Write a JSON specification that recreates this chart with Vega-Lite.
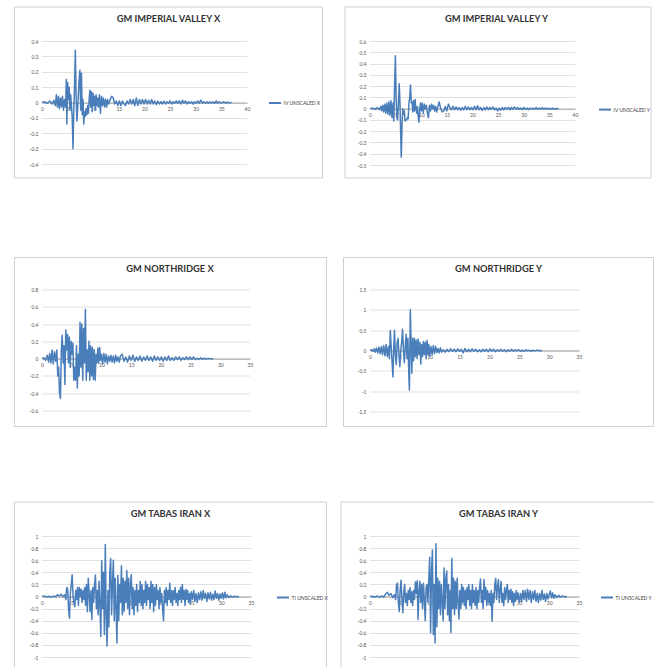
{
"$schema": "https://vega.github.io/schema/vega-lite/v6.json",
"padding": {"left": 13, "top": 6, "right": 0, "bottom": 0},
"background": "white",
"columns": 2,
"spacing": {"row": 124.5, "column": 119},
"bounds": "flush",
"resolve": {"scale": {"x": "independent", "y": "independent", "color": "independent"}, "legend": {"color": "independent"}},
"config": {
  "font": "Lato",
  "view": {"stroke": null},
  "axis": {"labelFont": "Lato", "labelFontSize": 5, "labelColor": "#595959", "ticks": false, "labelFlush": false, "labelOverlap": false},
  "axisX": {"grid": false, "domain": true, "domainColor": "#8c8c8c", "domainWidth": 0.8, "labelPadding": 4},
  "axisY": {"grid": true, "gridColor": "#d9d9d9", "gridWidth": 0.8, "domain": false, "labelPadding": 4},
  "legend": {"symbolType": "stroke", "symbolSize": 144, "symbolStrokeWidth": 2, "labelFont": "Lato", "labelFontSize": 5, "labelColor": "#404040", "labelOffset": 1.5, "padding": 0},
  "title": {"font": "Lato", "fontSize": 9.3, "fontWeight": "bold", "color": "#333333"}
},
"datasets": {
"ivx": [{"t":0,"a":0},{"t":0.5,"a":0.005},{"t":1,"a":-0.005},{"t":1.5,"a":0.01},{"t":2,"a":-0.01},{"t":2.3,"a":0.015},{"t":2.6,"a":-0.02},{"t":2.8,"a":0.05},{"t":3,"a":-0.03},{"t":3.2,"a":0.04},{"t":3.4,"a":-0.04},{"t":3.6,"a":0.03},{"t":3.8,"a":-0.03},{"t":4,"a":0.04},{"t":4.2,"a":-0.05},{"t":4.4,"a":0.02},{"t":4.6,"a":-0.03},{"t":4.75,"a":0.15},{"t":4.85,"a":-0.14},{"t":5,"a":0.13},{"t":5.15,"a":0.02},{"t":5.3,"a":0.1},{"t":5.45,"a":-0.05},{"t":5.6,"a":0.05},{"t":5.75,"a":-0.02},{"t":5.9,"a":-0.1},{"t":6.05,"a":-0.3},{"t":6.2,"a":-0.05},{"t":6.35,"a":0.1},{"t":6.5,"a":0.34},{"t":6.65,"a":0.05},{"t":6.8,"a":-0.12},{"t":6.95,"a":-0.05},{"t":7.1,"a":0.05},{"t":7.25,"a":0.15},{"t":7.4,"a":0.21},{"t":7.55,"a":-0.05},{"t":7.7,"a":0.19},{"t":7.85,"a":-0.08},{"t":8,"a":0.02},{"t":8.15,"a":-0.14},{"t":8.3,"a":-0.06},{"t":8.45,"a":-0.09},{"t":8.6,"a":-0.04},{"t":8.75,"a":-0.08},{"t":8.9,"a":-0.02},{"t":9.05,"a":-0.07},{"t":9.2,"a":0.02},{"t":9.35,"a":0.08},{"t":9.5,"a":-0.03},{"t":9.65,"a":0.07},{"t":9.8,"a":-0.06},{"t":9.95,"a":0.06},{"t":10.1,"a":-0.02},{"t":10.25,"a":0.04},{"t":10.4,"a":-0.05},{"t":10.55,"a":0.05},{"t":10.7,"a":-0.02},{"t":10.85,"a":0.03},{"t":11,"a":-0.03},{"t":11.2,"a":0.05},{"t":11.4,"a":-0.07},{"t":11.6,"a":0.04},{"t":11.8,"a":-0.02},{"t":12,"a":0.03},{"t":12.2,"a":-0.03},{"t":12.4,"a":0.02},{"t":12.6,"a":-0.03},{"t":12.8,"a":0.02},{"t":13,"a":-0.01},{"t":13.3,"a":0.02},{"t":13.6,"a":0.04},{"t":13.9,"a":0.03},{"t":14.2,"a":-0.01},{"t":14.5,"a":0.01},{"t":14.8,"a":-0.02},{"t":15.1,"a":0.01},{"t":15.4,"a":-0.02},{"t":15.7,"a":0.01},{"t":16,"a":-0.01},{"t":16.3,"a":-0.02},{"t":16.6,"a":0.01},{"t":16.9,"a":-0.01},{"t":17.2,"a":0.02},{"t":17.5,"a":-0.01},{"t":17.8,"a":0.02},{"t":18.1,"a":-0.02},{"t":18.4,"a":0.03},{"t":18.7,"a":-0.02},{"t":19,"a":0.02},{"t":19.3,"a":-0.01},{"t":19.6,"a":0.02},{"t":19.9,"a":-0.01},{"t":20.2,"a":0.02},{"t":20.5,"a":-0.01},{"t":20.8,"a":0.015},{"t":21.1,"a":-0.01},{"t":21.4,"a":0.02},{"t":21.7,"a":-0.01},{"t":22,"a":0.01},{"t":22.3,"a":-0.015},{"t":22.6,"a":0.01},{"t":22.9,"a":-0.01},{"t":23.2,"a":0.005},{"t":23.5,"a":-0.01},{"t":23.8,"a":0.01},{"t":24.1,"a":-0.01},{"t":24.4,"a":0.005},{"t":24.7,"a":-0.005},{"t":25,"a":0.01},{"t":25.3,"a":-0.01},{"t":25.6,"a":0.005},{"t":25.9,"a":-0.005},{"t":26.2,"a":0.01},{"t":26.5,"a":-0.005},{"t":26.8,"a":0.01},{"t":27.1,"a":-0.01},{"t":27.4,"a":0.015},{"t":27.7,"a":-0.005},{"t":28,"a":0.01},{"t":28.3,"a":-0.01},{"t":28.6,"a":0.005},{"t":28.9,"a":-0.005},{"t":29.2,"a":0.005},{"t":29.5,"a":-0.01},{"t":29.8,"a":0.005},{"t":30.1,"a":-0.005},{"t":30.4,"a":0.01},{"t":30.7,"a":-0.005},{"t":31,"a":0.015},{"t":31.3,"a":-0.005},{"t":31.6,"a":0.005},{"t":31.9,"a":-0.005},{"t":32.2,"a":0.005},{"t":32.5,"a":-0.005},{"t":32.8,"a":0.005},{"t":33.1,"a":-0.005},{"t":33.4,"a":0.005},{"t":33.7,"a":-0.005},{"t":34,"a":0.01},{"t":34.3,"a":-0.005},{"t":34.6,"a":0.005},{"t":35,"a":-0.005},{"t":35.4,"a":0.005},{"t":35.8,"a":-0.003},{"t":36.2,"a":0.002},{"t":36.6,"a":-0.002},{"t":37,"a":0}],
"ivy": [{"t":0,"a":0},{"t":0.5,"a":0.005},{"t":1,"a":-0.005},{"t":1.4,"a":0.01},{"t":1.8,"a":-0.01},{"t":2.1,"a":0.02},{"t":2.3,"a":-0.02},{"t":2.5,"a":0.03},{"t":2.7,"a":-0.03},{"t":2.9,"a":0.04},{"t":3.1,"a":-0.04},{"t":3.3,"a":0.05},{"t":3.5,"a":-0.05},{"t":3.7,"a":0.06},{"t":3.9,"a":-0.06},{"t":4.1,"a":0.07},{"t":4.3,"a":-0.08},{"t":4.5,"a":0.05},{"t":4.65,"a":-0.11},{"t":4.8,"a":0.2},{"t":4.95,"a":0.47},{"t":5.1,"a":0.1},{"t":5.25,"a":-0.08},{"t":5.4,"a":-0.1},{"t":5.55,"a":0.05},{"t":5.7,"a":0.22},{"t":5.85,"a":0.05},{"t":6,"a":-0.25},{"t":6.1,"a":-0.43},{"t":6.25,"a":-0.15},{"t":6.4,"a":0},{"t":6.55,"a":-0.05},{"t":6.7,"a":-0.02},{"t":6.85,"a":-0.11},{"t":7,"a":-0.1},{"t":7.15,"a":-0.1},{"t":7.3,"a":-0.08},{"t":7.45,"a":-0.09},{"t":7.6,"a":0.05},{"t":7.75,"a":0.1},{"t":7.9,"a":0.21},{"t":8.05,"a":0.05},{"t":8.2,"a":0.06},{"t":8.35,"a":-0.03},{"t":8.5,"a":0.07},{"t":8.65,"a":-0.02},{"t":8.8,"a":0.08},{"t":8.95,"a":0},{"t":9.1,"a":-0.04},{"t":9.25,"a":0.02},{"t":9.4,"a":-0.07},{"t":9.55,"a":-0.12},{"t":9.7,"a":0},{"t":9.85,"a":0.05},{"t":10,"a":-0.02},{"t":10.2,"a":0.05},{"t":10.4,"a":-0.04},{"t":10.6,"a":0.04},{"t":10.8,"a":0},{"t":11,"a":0.03},{"t":11.2,"a":-0.04},{"t":11.4,"a":-0.08},{"t":11.6,"a":0.03},{"t":11.8,"a":-0.02},{"t":12,"a":0.04},{"t":12.2,"a":0},{"t":12.4,"a":0.03},{"t":12.6,"a":-0.02},{"t":12.8,"a":0.02},{"t":13,"a":-0.03},{"t":13.2,"a":0.01},{"t":13.5,"a":0.06},{"t":13.8,"a":0},{"t":14.1,"a":-0.03},{"t":14.4,"a":-0.02},{"t":14.7,"a":0.02},{"t":15,"a":-0.02},{"t":15.3,"a":0.04},{"t":15.6,"a":0.01},{"t":15.9,"a":-0.01},{"t":16.2,"a":0.02},{"t":16.5,"a":-0.01},{"t":16.8,"a":0.015},{"t":17.1,"a":-0.01},{"t":17.4,"a":0.01},{"t":17.7,"a":-0.015},{"t":18,"a":0.01},{"t":18.3,"a":-0.01},{"t":18.6,"a":0.02},{"t":18.9,"a":-0.01},{"t":19.2,"a":0.015},{"t":19.5,"a":-0.01},{"t":19.8,"a":0.01},{"t":20.1,"a":-0.01},{"t":20.4,"a":0.02},{"t":20.7,"a":-0.01},{"t":21,"a":0.025},{"t":21.3,"a":-0.01},{"t":21.6,"a":0.01},{"t":21.9,"a":-0.015},{"t":22.2,"a":0.01},{"t":22.5,"a":-0.01},{"t":22.8,"a":0.015},{"t":23.1,"a":-0.01},{"t":23.4,"a":0.01},{"t":23.7,"a":-0.005},{"t":24,"a":0.015},{"t":24.3,"a":-0.01},{"t":24.6,"a":0.005},{"t":24.9,"a":-0.02},{"t":25.2,"a":0.005},{"t":25.5,"a":-0.015},{"t":25.8,"a":0.01},{"t":26.1,"a":-0.01},{"t":26.4,"a":0.01},{"t":26.7,"a":-0.005},{"t":27,"a":0.01},{"t":27.3,"a":-0.01},{"t":27.6,"a":0.01},{"t":27.9,"a":-0.005},{"t":28.2,"a":0.015},{"t":28.5,"a":-0.005},{"t":28.8,"a":0.01},{"t":29.1,"a":-0.005},{"t":29.4,"a":0.005},{"t":29.7,"a":-0.01},{"t":30,"a":0.01},{"t":30.3,"a":-0.005},{"t":30.6,"a":0.005},{"t":30.9,"a":-0.01},{"t":31.2,"a":0.005},{"t":31.5,"a":-0.005},{"t":31.8,"a":0.005},{"t":32.1,"a":-0.005},{"t":32.4,"a":0.01},{"t":32.7,"a":-0.005},{"t":33,"a":0.005},{"t":33.3,"a":-0.005},{"t":33.6,"a":0.01},{"t":33.9,"a":-0.005},{"t":34.2,"a":0.005},{"t":34.5,"a":-0.005},{"t":34.8,"a":0.005},{"t":35.2,"a":-0.005},{"t":35.6,"a":0.003},{"t":36,"a":-0.003},{"t":36.4,"a":0.002},{"t":36.8,"a":0}],
"nrx": [{"t":0,"a":0},{"t":0.3,"a":0.01},{"t":0.6,"a":-0.02},{"t":0.9,"a":0.04},{"t":1.1,"a":-0.04},{"t":1.3,"a":0.06},{"t":1.5,"a":-0.05},{"t":1.7,"a":0.1},{"t":1.9,"a":-0.06},{"t":2.1,"a":0.08},{"t":2.3,"a":-0.03},{"t":2.5,"a":0.1},{"t":2.65,"a":-0.2},{"t":2.8,"a":-0.1},{"t":2.95,"a":-0.4},{"t":3.1,"a":-0.46},{"t":3.25,"a":0.1},{"t":3.4,"a":0.27},{"t":3.55,"a":-0.05},{"t":3.7,"a":0.15},{"t":3.85,"a":-0.3},{"t":4,"a":0.33},{"t":4.15,"a":0.1},{"t":4.3,"a":0.28},{"t":4.45,"a":-0.05},{"t":4.6,"a":0.25},{"t":4.75,"a":-0.1},{"t":4.9,"a":0.2},{"t":5.05,"a":0.05},{"t":5.2,"a":0.18},{"t":5.35,"a":-0.25},{"t":5.5,"a":-0.1},{"t":5.65,"a":-0.25},{"t":5.8,"a":0.15},{"t":5.95,"a":-0.34},{"t":6.1,"a":0.05},{"t":6.25,"a":-0.2},{"t":6.4,"a":0.42},{"t":6.55,"a":-0.1},{"t":6.7,"a":0.4},{"t":6.85,"a":-0.25},{"t":7,"a":0.35},{"t":7.15,"a":-0.05},{"t":7.3,"a":0.57},{"t":7.45,"a":-0.25},{"t":7.6,"a":0.1},{"t":7.75,"a":-0.15},{"t":7.9,"a":0.2},{"t":8.05,"a":-0.25},{"t":8.2,"a":0.15},{"t":8.35,"a":-0.2},{"t":8.5,"a":0.13},{"t":8.65,"a":-0.24},{"t":8.8,"a":0.1},{"t":8.95,"a":-0.25},{"t":9.1,"a":0.05},{"t":9.25,"a":-0.05},{"t":9.4,"a":0.12},{"t":9.55,"a":-0.05},{"t":9.7,"a":0.13},{"t":9.85,"a":-0.02},{"t":10,"a":0.05},{"t":10.2,"a":-0.06},{"t":10.4,"a":0.06},{"t":10.6,"a":-0.04},{"t":10.8,"a":0.05},{"t":11,"a":-0.06},{"t":11.2,"a":0.03},{"t":11.4,"a":-0.03},{"t":11.6,"a":0.04},{"t":11.8,"a":-0.04},{"t":12,"a":0.03},{"t":12.2,"a":-0.05},{"t":12.4,"a":0.04},{"t":12.6,"a":-0.03},{"t":12.8,"a":0.02},{"t":13,"a":-0.04},{"t":13.2,"a":0.03},{"t":13.5,"a":0.05},{"t":13.8,"a":-0.03},{"t":14.1,"a":0.02},{"t":14.4,"a":-0.04},{"t":14.7,"a":0.03},{"t":15,"a":-0.02},{"t":15.3,"a":0.04},{"t":15.6,"a":-0.03},{"t":15.9,"a":0.02},{"t":16.2,"a":-0.02},{"t":16.5,"a":0.03},{"t":16.8,"a":-0.03},{"t":17.1,"a":0.02},{"t":17.4,"a":-0.02},{"t":17.7,"a":0.03},{"t":18,"a":-0.02},{"t":18.3,"a":0.02},{"t":18.6,"a":-0.03},{"t":18.9,"a":0.03},{"t":19.2,"a":-0.02},{"t":19.5,"a":0.02},{"t":19.8,"a":-0.02},{"t":20.1,"a":0.02},{"t":20.4,"a":-0.03},{"t":20.7,"a":0.02},{"t":21,"a":-0.02},{"t":21.3,"a":0.03},{"t":21.6,"a":-0.02},{"t":21.9,"a":0.01},{"t":22.2,"a":-0.02},{"t":22.5,"a":0.02},{"t":22.8,"a":-0.01},{"t":23.1,"a":0.02},{"t":23.4,"a":-0.02},{"t":23.7,"a":0.01},{"t":24,"a":-0.01},{"t":24.3,"a":0.02},{"t":24.6,"a":-0.01},{"t":24.9,"a":0.02},{"t":25.2,"a":-0.01},{"t":25.5,"a":0.02},{"t":25.8,"a":-0.01},{"t":26.1,"a":0.005},{"t":26.4,"a":-0.01},{"t":26.7,"a":0.01},{"t":27,"a":-0.005},{"t":27.3,"a":0.005},{"t":27.6,"a":-0.005},{"t":28,"a":0.003},{"t":28.4,"a":-0.002},{"t":28.8,"a":0}],
"nry": [{"t":0,"a":0},{"t":0.3,"a":0.02},{"t":0.5,"a":-0.02},{"t":0.7,"a":0.04},{"t":0.9,"a":-0.04},{"t":1.1,"a":0.06},{"t":1.3,"a":-0.06},{"t":1.5,"a":0.08},{"t":1.7,"a":-0.08},{"t":1.9,"a":0.1},{"t":2.1,"a":-0.1},{"t":2.3,"a":0.12},{"t":2.5,"a":-0.13},{"t":2.7,"a":0.15},{"t":2.9,"a":-0.15},{"t":3.1,"a":0.1},{"t":3.25,"a":-0.2},{"t":3.4,"a":0.49},{"t":3.55,"a":0.1},{"t":3.7,"a":-0.3},{"t":3.85,"a":-0.65},{"t":4,"a":0.2},{"t":4.1,"a":0.5},{"t":4.25,"a":-0.1},{"t":4.4,"a":-0.35},{"t":4.55,"a":0.2},{"t":4.7,"a":0.3},{"t":4.85,"a":-0.1},{"t":5,"a":-0.4},{"t":5.15,"a":0},{"t":5.3,"a":0.2},{"t":5.45,"a":0.52},{"t":5.6,"a":0},{"t":5.75,"a":-0.3},{"t":5.9,"a":0.1},{"t":6.05,"a":0.4},{"t":6.2,"a":-0.2},{"t":6.35,"a":0.3},{"t":6.5,"a":-0.6},{"t":6.6,"a":-0.97},{"t":6.75,"a":1},{"t":6.9,"a":0.1},{"t":7,"a":-0.56},{"t":7.15,"a":0.3},{"t":7.3,"a":-0.25},{"t":7.45,"a":0.3},{"t":7.6,"a":-0.15},{"t":7.75,"a":0.25},{"t":7.9,"a":-0.2},{"t":8.05,"a":0.28},{"t":8.2,"a":-0.1},{"t":8.35,"a":0.2},{"t":8.5,"a":-0.33},{"t":8.65,"a":0.15},{"t":8.8,"a":-0.15},{"t":8.95,"a":0.22},{"t":9.1,"a":-0.1},{"t":9.25,"a":0.2},{"t":9.4,"a":-0.2},{"t":9.55,"a":0.25},{"t":9.7,"a":-0.1},{"t":9.85,"a":0.15},{"t":10,"a":-0.15},{"t":10.2,"a":0.1},{"t":10.4,"a":-0.1},{"t":10.6,"a":0.12},{"t":10.8,"a":-0.08},{"t":11,"a":0.1},{"t":11.2,"a":-0.05},{"t":11.4,"a":0.05},{"t":11.6,"a":-0.06},{"t":11.8,"a":0.07},{"t":12,"a":-0.04},{"t":12.3,"a":0.02},{"t":12.6,"a":-0.04},{"t":12.9,"a":0.03},{"t":13.2,"a":-0.03},{"t":13.5,"a":0.04},{"t":13.8,"a":-0.02},{"t":14.1,"a":0.03},{"t":14.4,"a":-0.03},{"t":14.7,"a":0.04},{"t":15,"a":-0.02},{"t":15.3,"a":0.03},{"t":15.6,"a":-0.06},{"t":15.9,"a":0.05},{"t":16.2,"a":-0.03},{"t":16.5,"a":0.03},{"t":16.8,"a":-0.03},{"t":17.1,"a":0.04},{"t":17.4,"a":-0.02},{"t":17.7,"a":0.03},{"t":18,"a":-0.03},{"t":18.3,"a":0.02},{"t":18.6,"a":-0.03},{"t":18.9,"a":0.03},{"t":19.2,"a":-0.02},{"t":19.5,"a":0.03},{"t":19.8,"a":-0.03},{"t":20.1,"a":0.04},{"t":20.4,"a":-0.02},{"t":20.7,"a":0.03},{"t":21,"a":-0.03},{"t":21.3,"a":0.02},{"t":21.6,"a":-0.02},{"t":21.9,"a":0.03},{"t":22.2,"a":-0.02},{"t":22.5,"a":0.02},{"t":22.8,"a":-0.03},{"t":23.1,"a":0.02},{"t":23.4,"a":-0.02},{"t":23.7,"a":0.03},{"t":24,"a":-0.02},{"t":24.3,"a":0.02},{"t":24.6,"a":-0.01},{"t":24.9,"a":0.02},{"t":25.2,"a":-0.02},{"t":25.5,"a":0.01},{"t":25.8,"a":-0.02},{"t":26.1,"a":0.02},{"t":26.4,"a":-0.01},{"t":26.7,"a":0.01},{"t":27,"a":-0.02},{"t":27.3,"a":0.01},{"t":27.6,"a":-0.01},{"t":28,"a":0.01},{"t":28.4,"a":-0.005},{"t":28.8,"a":0}],
"tix": [{"t":0,"a":0},{"t":0.4,"a":0.01},{"t":0.8,"a":-0.01},{"t":1.2,"a":0.005},{"t":1.6,"a":-0.01},{"t":2,"a":0.01},{"t":2.3,"a":-0.005},{"t":2.6,"a":0.03},{"t":2.9,"a":0.01},{"t":3.2,"a":0.035},{"t":3.5,"a":0},{"t":3.8,"a":0.03},{"t":4,"a":-0.05},{"t":4.15,"a":0.15},{"t":4.3,"a":0.12},{"t":4.45,"a":-0.2},{"t":4.6,"a":-0.36},{"t":4.75,"a":0.05},{"t":4.9,"a":0.2},{"t":5.05,"a":0.36},{"t":5.2,"a":0},{"t":5.35,"a":-0.1},{"t":5.5,"a":-0.17},{"t":5.65,"a":0.1},{"t":5.8,"a":-0.05},{"t":5.95,"a":0.15},{"t":6.1,"a":-0.15},{"t":6.25,"a":0.15},{"t":6.4,"a":0},{"t":6.55,"a":0.12},{"t":6.7,"a":-0.1},{"t":6.85,"a":0.1},{"t":7,"a":-0.05},{"t":7.15,"a":0.15},{"t":7.3,"a":-0.15},{"t":7.45,"a":0.2},{"t":7.6,"a":-0.25},{"t":7.75,"a":0.3},{"t":7.9,"a":0.05},{"t":8.05,"a":-0.25},{"t":8.2,"a":0.1},{"t":8.35,"a":-0.38},{"t":8.5,"a":0.15},{"t":8.65,"a":-0.1},{"t":8.8,"a":0.2},{"t":8.95,"a":0.355},{"t":9.1,"a":-0.2},{"t":9.25,"a":0.1},{"t":9.4,"a":-0.3},{"t":9.55,"a":0.25},{"t":9.7,"a":-0.15},{"t":9.85,"a":-0.66},{"t":10,"a":0.59},{"t":10.15,"a":-0.2},{"t":10.3,"a":0.4},{"t":10.45,"a":-0.63},{"t":10.6,"a":0.86},{"t":10.75,"a":-0.3},{"t":10.9,"a":-0.82},{"t":11.05,"a":0.1},{"t":11.2,"a":-0.5},{"t":11.35,"a":0.4},{"t":11.5,"a":0.63},{"t":11.65,"a":-0.3},{"t":11.8,"a":0.2},{"t":11.95,"a":0.6},{"t":12.1,"a":-0.4},{"t":12.25,"a":0.3},{"t":12.4,"a":-0.2},{"t":12.55,"a":-0.77},{"t":12.7,"a":0.35},{"t":12.85,"a":-0.4},{"t":13,"a":0.2},{"t":13.15,"a":-0.1},{"t":13.3,"a":0.51},{"t":13.45,"a":-0.3},{"t":13.6,"a":0.3},{"t":13.75,"a":-0.25},{"t":13.9,"a":0.25},{"t":14.05,"a":-0.1},{"t":14.2,"a":0.43},{"t":14.35,"a":-0.2},{"t":14.5,"a":0.3},{"t":14.65,"a":-0.3},{"t":14.8,"a":0.2},{"t":14.95,"a":0.36},{"t":15.1,"a":-0.2},{"t":15.25,"a":0.15},{"t":15.4,"a":-0.3},{"t":15.55,"a":0.1},{"t":15.7,"a":-0.15},{"t":15.85,"a":0.2},{"t":16,"a":-0.25},{"t":16.15,"a":0.1},{"t":16.3,"a":-0.1},{"t":16.45,"a":0.25},{"t":16.6,"a":-0.15},{"t":16.75,"a":0.2},{"t":16.9,"a":-0.2},{"t":17.05,"a":0.1},{"t":17.2,"a":-0.1},{"t":17.35,"a":0.25},{"t":17.5,"a":-0.15},{"t":17.65,"a":0.2},{"t":17.8,"a":-0.05},{"t":17.95,"a":0.15},{"t":18.1,"a":-0.2},{"t":18.25,"a":0.25},{"t":18.4,"a":-0.1},{"t":18.55,"a":0.2},{"t":18.7,"a":-0.25},{"t":18.85,"a":0.15},{"t":19,"a":-0.15},{"t":19.15,"a":0.2},{"t":19.3,"a":-0.05},{"t":19.45,"a":0.1},{"t":19.6,"a":-0.2},{"t":19.75,"a":0.15},{"t":19.9,"a":-0.1},{"t":20.05,"a":0.05},{"t":20.2,"a":-0.2},{"t":20.35,"a":-0.4},{"t":20.5,"a":0.1},{"t":20.65,"a":-0.1},{"t":20.8,"a":0.15},{"t":20.95,"a":-0.15},{"t":21.1,"a":0.1},{"t":21.25,"a":-0.05},{"t":21.4,"a":0.22},{"t":21.55,"a":-0.1},{"t":21.7,"a":0.1},{"t":21.85,"a":-0.15},{"t":22,"a":0.1},{"t":22.15,"a":-0.05},{"t":22.3,"a":0.15},{"t":22.45,"a":-0.1},{"t":22.6,"a":0.05},{"t":22.75,"a":-0.15},{"t":22.9,"a":0.1},{"t":23.05,"a":-0.05},{"t":23.2,"a":0.15},{"t":23.35,"a":-0.1},{"t":23.5,"a":0.2},{"t":23.65,"a":-0.05},{"t":23.8,"a":0.1},{"t":23.95,"a":-0.15},{"t":24.1,"a":0.12},{"t":24.25,"a":-0.05},{"t":24.4,"a":0.1},{"t":24.55,"a":-0.1},{"t":24.7,"a":0.05},{"t":24.85,"a":-0.12},{"t":25,"a":0.08},{"t":25.2,"a":-0.05},{"t":25.4,"a":0.1},{"t":25.6,"a":-0.08},{"t":25.8,"a":0.05},{"t":26,"a":-0.1},{"t":26.2,"a":0.06},{"t":26.4,"a":-0.05},{"t":26.6,"a":0.08},{"t":26.8,"a":-0.06},{"t":27,"a":0.1},{"t":27.2,"a":-0.03},{"t":27.4,"a":0.05},{"t":27.6,"a":-0.08},{"t":27.8,"a":0.06},{"t":28,"a":-0.04},{"t":28.2,"a":0.07},{"t":28.4,"a":-0.06},{"t":28.6,"a":0.04},{"t":28.8,"a":-0.05},{"t":29,"a":0.09},{"t":29.2,"a":-0.03},{"t":29.4,"a":0.05},{"t":29.6,"a":-0.06},{"t":29.8,"a":0.04},{"t":30,"a":-0.03},{"t":30.2,"a":0.06},{"t":30.4,"a":-0.04},{"t":30.6,"a":0.07},{"t":30.8,"a":-0.02},{"t":31,"a":0.03},{"t":31.3,"a":-0.02},{"t":31.6,"a":0.01},{"t":31.9,"a":-0.01},{"t":32.2,"a":0.005},{"t":32.6,"a":-0.005},{"t":33,"a":0}],
"tiy": [{"t":0,"a":0},{"t":0.4,"a":0.005},{"t":0.8,"a":-0.01},{"t":1.2,"a":0.01},{"t":1.6,"a":-0.01},{"t":2,"a":0.01},{"t":2.3,"a":-0.01},{"t":2.6,"a":0.04},{"t":2.9,"a":0.07},{"t":3.2,"a":0.02},{"t":3.5,"a":0.05},{"t":3.8,"a":-0.02},{"t":4.1,"a":0.03},{"t":4.3,"a":-0.05},{"t":4.45,"a":0.2},{"t":4.6,"a":0.22},{"t":4.75,"a":-0.1},{"t":4.9,"a":-0.25},{"t":5.05,"a":0.1},{"t":5.2,"a":0.27},{"t":5.35,"a":-0.05},{"t":5.5,"a":-0.27},{"t":5.65,"a":0.05},{"t":5.8,"a":0.2},{"t":5.95,"a":-0.1},{"t":6.1,"a":0.05},{"t":6.25,"a":-0.15},{"t":6.4,"a":0.1},{"t":6.55,"a":-0.05},{"t":6.7,"a":0.15},{"t":6.85,"a":-0.1},{"t":7,"a":0.08},{"t":7.15,"a":-0.15},{"t":7.3,"a":0.1},{"t":7.45,"a":-0.05},{"t":7.6,"a":0.24},{"t":7.75,"a":0.05},{"t":7.9,"a":0.26},{"t":8.05,"a":-0.38},{"t":8.2,"a":0.1},{"t":8.35,"a":0.25},{"t":8.5,"a":-0.1},{"t":8.65,"a":0.2},{"t":8.8,"a":-0.2},{"t":8.95,"a":0.22},{"t":9.1,"a":-0.05},{"t":9.25,"a":-0.4},{"t":9.4,"a":0.15},{"t":9.55,"a":0.2},{"t":9.7,"a":-0.1},{"t":9.85,"a":0.3},{"t":10,"a":0.65},{"t":10.15,"a":-0.6},{"t":10.3,"a":0.4},{"t":10.45,"a":0.77},{"t":10.6,"a":-0.63},{"t":10.75,"a":0.2},{"t":10.9,"a":-0.77},{"t":11.05,"a":0.87},{"t":11.2,"a":-0.5},{"t":11.35,"a":0.3},{"t":11.5,"a":-0.2},{"t":11.65,"a":0.25},{"t":11.8,"a":-0.3},{"t":11.95,"a":0.2},{"t":12.1,"a":-0.1},{"t":12.25,"a":-0.4},{"t":12.4,"a":0.47},{"t":12.55,"a":-0.2},{"t":12.7,"a":0.3},{"t":12.85,"a":0.42},{"t":13,"a":-0.3},{"t":13.15,"a":0.2},{"t":13.3,"a":-0.4},{"t":13.45,"a":0.1},{"t":13.55,"a":-0.6},{"t":13.7,"a":0.63},{"t":13.85,"a":-0.2},{"t":14,"a":0.3},{"t":14.15,"a":-0.3},{"t":14.3,"a":0.25},{"t":14.45,"a":-0.2},{"t":14.6,"a":0.3},{"t":14.75,"a":-0.1},{"t":14.9,"a":-0.37},{"t":15.05,"a":0.1},{"t":15.2,"a":-0.2},{"t":15.35,"a":0.2},{"t":15.5,"a":-0.1},{"t":15.65,"a":0.15},{"t":15.8,"a":-0.15},{"t":15.95,"a":0.1},{"t":16.1,"a":-0.2},{"t":16.25,"a":0.15},{"t":16.4,"a":-0.05},{"t":16.55,"a":0.2},{"t":16.7,"a":-0.15},{"t":16.85,"a":0.1},{"t":17,"a":-0.2},{"t":17.15,"a":0.2},{"t":17.3,"a":-0.1},{"t":17.45,"a":0.1},{"t":17.6,"a":-0.15},{"t":17.75,"a":0.15},{"t":17.9,"a":-0.2},{"t":18.05,"a":0.1},{"t":18.2,"a":-0.1},{"t":18.35,"a":0.15},{"t":18.5,"a":0.29},{"t":18.65,"a":-0.1},{"t":18.8,"a":0.1},{"t":18.95,"a":-0.2},{"t":19.1,"a":0.28},{"t":19.25,"a":-0.05},{"t":19.4,"a":0.15},{"t":19.55,"a":-0.15},{"t":19.7,"a":0.1},{"t":19.85,"a":-0.1},{"t":20,"a":0.05},{"t":20.15,"a":-0.15},{"t":20.3,"a":0.1},{"t":20.45,"a":-0.41},{"t":20.6,"a":0.05},{"t":20.75,"a":-0.1},{"t":20.9,"a":0.2},{"t":21.05,"a":0.3},{"t":21.2,"a":-0.05},{"t":21.35,"a":0.15},{"t":21.5,"a":0.28},{"t":21.65,"a":-0.1},{"t":21.8,"a":0.1},{"t":21.95,"a":0.25},{"t":22.1,"a":-0.1},{"t":22.25,"a":0.05},{"t":22.4,"a":-0.15},{"t":22.55,"a":0.15},{"t":22.7,"a":-0.05},{"t":22.85,"a":0.1},{"t":23,"a":0.2},{"t":23.15,"a":-0.1},{"t":23.3,"a":0.1},{"t":23.45,"a":-0.05},{"t":23.6,"a":0.12},{"t":23.75,"a":-0.1},{"t":23.9,"a":0.08},{"t":24.05,"a":-0.15},{"t":24.2,"a":0.05},{"t":24.35,"a":-0.08},{"t":24.5,"a":0.1},{"t":24.65,"a":-0.05},{"t":24.8,"a":0.06},{"t":25,"a":-0.1},{"t":25.2,"a":0.05},{"t":25.4,"a":-0.08},{"t":25.6,"a":0.1},{"t":25.8,"a":-0.05},{"t":26,"a":0.1},{"t":26.2,"a":-0.08},{"t":26.4,"a":0.12},{"t":26.6,"a":-0.05},{"t":26.8,"a":0.1},{"t":27,"a":-0.1},{"t":27.2,"a":0.08},{"t":27.4,"a":-0.05},{"t":27.6,"a":0.1},{"t":27.8,"a":-0.08},{"t":28,"a":0.05},{"t":28.2,"a":-0.1},{"t":28.4,"a":0.05},{"t":28.6,"a":-0.06},{"t":28.8,"a":0.1},{"t":29,"a":-0.05},{"t":29.2,"a":0.04},{"t":29.4,"a":-0.08},{"t":29.6,"a":0.05},{"t":29.8,"a":-0.04},{"t":30,"a":0.03},{"t":30.2,"a":0.09},{"t":30.4,"a":-0.02},{"t":30.6,"a":0.06},{"t":30.8,"a":-0.03},{"t":31,"a":0.03},{"t":31.3,"a":-0.02},{"t":31.6,"a":0.02},{"t":31.9,"a":-0.01},{"t":32.2,"a":0.01},{"t":32.6,"a":-0.005},{"t":33,"a":0}]
},
"concat": [
{
  "width": 205, "height": 123,
  "title": {"text": "GM IMPERIAL VALLEY X", "dx": 24, "offset": -24.5, "baseline": "alphabetic"},
  "layer": [
    {"data": {"values": [{}]},
     "mark": {"type": "rect", "filled": false, "stroke": "#d0d0d0", "strokeWidth": 1, "clip": false},
     "encoding": {
       "x": {"datum": -5.37, "type": "quantitative", "scale": {"domain": [0, 40], "nice": false}, "axis": {"title": null, "values": [0,5,10,15,20,25,30,35,40], "offset": -61.5, "format": "~g"}},
       "x2": {"datum": 54.73},
       "y": {"datum": 0.621, "type": "quantitative", "scale": {"domain": [-0.4, 0.4], "nice": false}, "axis": {"title": null, "values": [-0.4,-0.3,-0.2,-0.1,0,0.1,0.2,0.3,0.4], "format": "~g", "labelExpr": "replace(datum.label, '−', '-')"}},
       "y2": {"datum": -0.491}
     }},
    {"data": {"name": "ivx"},
     "mark": {"type": "line", "strokeWidth": 1.5, "strokeJoin": "round"},
     "encoding": {
       "x": {"field": "t", "type": "quantitative", "scale": {"domain": [0, 40], "nice": false}, "axis": {"title": null, "values": [0,5,10,15,20,25,30,35,40], "offset": -61.5, "format": "~g"}},
       "y": {"field": "a", "type": "quantitative", "scale": {"domain": [-0.4, 0.4], "nice": false}, "axis": {"title": null, "values": [-0.4,-0.3,-0.2,-0.1,0,0.1,0.2,0.3,0.4], "format": "~g", "labelExpr": "replace(datum.label, '−', '-')"}},
       "color": {"datum": "IV UNSCALED X", "type": "nominal", "scale": {"range": ["#4a7ebb"]}, "legend": {"title": null, "orient": "none", "legendX": 226, "legendY": 55}}
     }}
  ]
},
{
  "width": 205, "height": 124,
  "title": {"text": "GM IMPERIAL VALLEY Y", "dx": 24, "offset": -24.5, "baseline": "alphabetic"},
  "layer": [
    {"data": {"values": [{}]},
     "mark": {"type": "rect", "filled": false, "stroke": "#d0d0d0", "strokeWidth": 1, "clip": false},
     "encoding": {
       "x": {"datum": -4.88, "type": "quantitative", "scale": {"domain": [0, 40], "nice": false}, "axis": {"title": null, "values": [0,5,10,15,20,25,30,35,40], "offset": -56.36, "format": "~g"}},
       "x2": {"datum": 54.83},
       "y": {"datum": 0.902, "type": "quantitative", "scale": {"domain": [-0.5, 0.6], "nice": false}, "axis": {"title": null, "values": [-0.5,-0.4,-0.3,-0.2,-0.1,0,0.1,0.2,0.3,0.4,0.5,0.6], "format": "~g", "labelExpr": "replace(datum.label, '−', '-')"}},
       "y2": {"datum": -0.615}
     }},
    {"data": {"name": "ivy"},
     "mark": {"type": "line", "strokeWidth": 1.5, "strokeJoin": "round"},
     "encoding": {
       "x": {"field": "t", "type": "quantitative", "scale": {"domain": [0, 40], "nice": false}, "axis": {"title": null, "values": [0,5,10,15,20,25,30,35,40], "offset": -56.36, "format": "~g"}},
       "y": {"field": "a", "type": "quantitative", "scale": {"domain": [-0.5, 0.6], "nice": false}, "axis": {"title": null, "values": [-0.5,-0.4,-0.3,-0.2,-0.1,0,0.1,0.2,0.3,0.4,0.5,0.6], "format": "~g", "labelExpr": "replace(datum.label, '−', '-')"}},
       "color": {"datum": "IV UNSCALED Y", "type": "nominal", "scale": {"range": ["#4a7ebb"]}, "legend": {"title": null, "orient": "none", "legendX": 228, "legendY": 61.6}}
     }}
  ]
},
{
  "width": 208, "height": 121,
  "title": {"text": "GM NORTHRIDGE X", "dx": 24, "offset": -24.5, "baseline": "alphabetic"},
  "layer": [
    {"data": {"values": [{}]},
     "mark": {"type": "rect", "filled": false, "stroke": "#d0d0d0", "strokeWidth": 1, "clip": false},
     "encoding": {
       "x": {"datum": -4.63, "type": "quantitative", "scale": {"domain": [0, 35], "nice": false}, "axis": {"title": null, "values": [0,5,10,15,20,25,30,35], "offset": -51.86, "format": "~g"}},
       "x2": {"datum": 47.87},
       "y": {"datum": 1.17, "type": "quantitative", "scale": {"domain": [-0.6, 0.8], "nice": false}, "axis": {"title": null, "values": [-0.6,-0.4,-0.2,0,0.2,0.4,0.6,0.8], "format": "~g", "labelExpr": "replace(datum.label, '−', '-')"}},
       "y2": {"datum": -0.785}
     }},
    {"data": {"name": "nrx"},
     "mark": {"type": "line", "strokeWidth": 1.5, "strokeJoin": "round", "color": "#4a7ebb"},
     "encoding": {
       "x": {"field": "t", "type": "quantitative", "scale": {"domain": [0, 35], "nice": false}, "axis": {"title": null, "values": [0,5,10,15,20,25,30,35], "offset": -51.86, "format": "~g"}},
       "y": {"field": "a", "type": "quantitative", "scale": {"domain": [-0.6, 0.8], "nice": false}, "axis": {"title": null, "values": [-0.6,-0.4,-0.2,0,0.2,0.4,0.6,0.8], "format": "~g", "labelExpr": "replace(datum.label, '−', '-')"}}
     }}
  ]
},
{
  "width": 209, "height": 122,
  "title": {"text": "GM NORTHRIDGE Y", "dx": 24, "offset": -24.5, "baseline": "alphabetic"},
  "layer": [
    {"data": {"values": [{}]},
     "mark": {"type": "rect", "filled": false, "stroke": "#d0d0d0", "strokeWidth": 1, "clip": false},
     "encoding": {
       "x": {"datum": -4.44, "type": "quantitative", "scale": {"domain": [0, 35], "nice": false}, "axis": {"title": null, "values": [0,5,10,15,20,25,30,35], "offset": -61, "format": "~g"}},
       "x2": {"datum": 47.48},
       "y": {"datum": 2.287, "type": "quantitative", "scale": {"domain": [-1.5, 1.5], "nice": false}, "axis": {"title": null, "values": [-1.5,-1,-0.5,0,0.5,1,1.5], "format": "~g", "labelExpr": "replace(datum.label, '−', '-')"}},
       "y2": {"datum": -1.869}
     }},
    {"data": {"name": "nry"},
     "mark": {"type": "line", "strokeWidth": 1.5, "strokeJoin": "round", "color": "#4a7ebb"},
     "encoding": {
       "x": {"field": "t", "type": "quantitative", "scale": {"domain": [0, 35], "nice": false}, "axis": {"title": null, "values": [0,5,10,15,20,25,30,35], "offset": -61, "format": "~g"}},
       "y": {"field": "a", "type": "quantitative", "scale": {"domain": [-1.5, 1.5], "nice": false}, "axis": {"title": null, "values": [-1.5,-1,-0.5,0,0.5,1,1.5], "format": "~g", "labelExpr": "replace(datum.label, '−', '-')"}}
     }}
  ]
},
{
  "width": 209, "height": 121,
  "title": {"text": "GM TABAS IRAN X", "dx": 24, "offset": -24.5, "baseline": "alphabetic"},
  "layer": [
    {"data": {"values": [{}]},
     "mark": {"type": "rect", "filled": false, "stroke": "#d0d0d0", "strokeWidth": 1, "clip": false},
     "encoding": {
       "x": {"datum": -4.61, "type": "quantitative", "scale": {"domain": [0, 35], "nice": false}, "axis": {"title": null, "values": [0,5,10,15,20,25,30,35], "offset": -60.5, "format": "~g"}},
       "x2": {"datum": 47.64},
       "y": {"datum": 1.562, "type": "quantitative", "scale": {"domain": [-1, 1], "nice": false}, "axis": {"title": null, "values": [-1,-0.8,-0.6,-0.4,-0.2,0,0.2,0.4,0.6,0.8,1], "format": "~g", "labelExpr": "replace(datum.label, '−', '-')"}},
       "y2": {"datum": -1.397}
     }},
    {"data": {"name": "tix"},
     "mark": {"type": "line", "strokeWidth": 1.5, "strokeJoin": "round"},
     "encoding": {
       "x": {"field": "t", "type": "quantitative", "scale": {"domain": [0, 35], "nice": false}, "axis": {"title": null, "values": [0,5,10,15,20,25,30,35], "offset": -60.5, "format": "~g"}},
       "y": {"field": "a", "type": "quantitative", "scale": {"domain": [-1, 1], "nice": false}, "axis": {"title": null, "values": [-1,-0.8,-0.6,-0.4,-0.2,0,0.2,0.4,0.6,0.8,1], "format": "~g", "labelExpr": "replace(datum.label, '−', '-')"}},
       "color": {"datum": "TI UNSCALED X", "type": "nominal", "scale": {"range": ["#4a7ebb"]}, "legend": {"title": null, "orient": "none", "legendX": 234, "legendY": 54.5}}
     }}
  ]
},
{
  "width": 209, "height": 121,
  "title": {"text": "GM TABAS IRAN Y", "dx": 24, "offset": -24.5, "baseline": "alphabetic"},
  "layer": [
    {"data": {"values": [{}]},
     "mark": {"type": "rect", "filled": false, "stroke": "#d0d0d0", "strokeWidth": 1, "clip": false},
     "encoding": {
       "x": {"datum": -4.86, "type": "quantitative", "scale": {"domain": [0, 35], "nice": false}, "axis": {"title": null, "values": [0,5,10,15,20,25,30,35], "offset": -60.5, "format": "~g"}},
       "x2": {"datum": 50.24},
       "y": {"datum": 1.562, "type": "quantitative", "scale": {"domain": [-1, 1], "nice": false}, "axis": {"title": null, "values": [-1,-0.8,-0.6,-0.4,-0.2,0,0.2,0.4,0.6,0.8,1], "format": "~g", "labelExpr": "replace(datum.label, '−', '-')"}},
       "y2": {"datum": -1.397}
     }},
    {"data": {"name": "tiy"},
     "mark": {"type": "line", "strokeWidth": 1.5, "strokeJoin": "round"},
     "encoding": {
       "x": {"field": "t", "type": "quantitative", "scale": {"domain": [0, 35], "nice": false}, "axis": {"title": null, "values": [0,5,10,15,20,25,30,35], "offset": -60.5, "format": "~g"}},
       "y": {"field": "a", "type": "quantitative", "scale": {"domain": [-1, 1], "nice": false}, "axis": {"title": null, "values": [-1,-0.8,-0.6,-0.4,-0.2,0,0.2,0.4,0.6,0.8,1], "format": "~g", "labelExpr": "replace(datum.label, '−', '-')"}},
       "color": {"datum": "TI UNSCALED Y", "type": "nominal", "scale": {"range": ["#4a7ebb"]}, "legend": {"title": null, "orient": "none", "legendX": 230, "legendY": 54.5}}
     }}
  ]
}
]
}
